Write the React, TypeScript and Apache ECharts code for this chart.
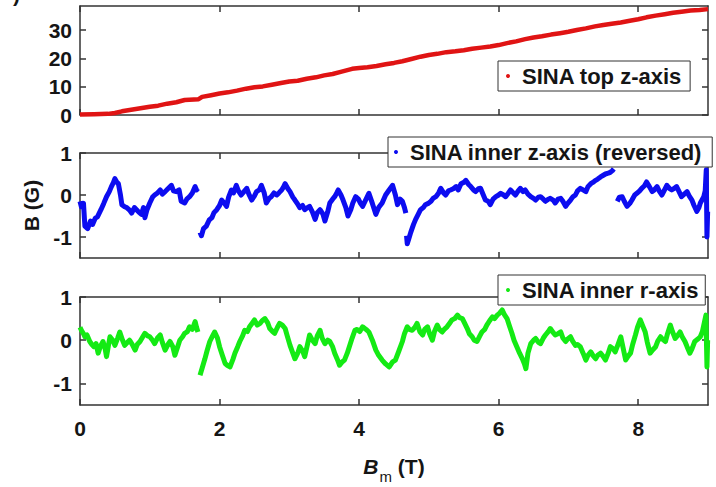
import React, { useEffect, useRef } from "react";
import * as echarts from "echarts";

// ---------- data ----------
const X_TICKS = [0, 2, 4, 6, 8];
const TOP_Y_TICKS = [0, 10, 20, 30];
const INNER_Y_TICKS = [-1, 0, 1];

const SERIES_NAMES = ["SINA top z-axis", "SINA inner z-axis (reversed)", "SINA inner r-axis"];
const X_TITLE_MAIN = "B";
const X_TITLE_SUB = "m";
const X_TITLE_UNIT = " (T)";
const Y_TITLE = "B (G)";

type P = [number, number | null];

const topZ: P[] = [
  [0, 0.2], [0.2, 0.3], [0.4, 0.4], [0.5, 0.7], [0.6, 1.3], [0.8, 2.1], [1.0, 2.9], [1.12, 3.3],
  [1.25, 4.0], [1.38, 4.5], [1.5, 5.3], [1.7, 5.6], [1.75, 6.4], [1.88, 7.0], [2.0, 7.6], [2.12, 8.0],
  [2.25, 8.6], [2.38, 9.3], [2.5, 9.8], [2.62, 10.1], [2.75, 10.7], [2.88, 11.3], [3.0, 11.8],
  [3.12, 12.1], [3.25, 12.8], [3.38, 13.3], [3.5, 14.0], [3.62, 14.5], [3.75, 15.3], [3.9, 16.3],
  [4.0, 16.6], [4.12, 16.9], [4.25, 17.3], [4.38, 17.9], [4.5, 18.4], [4.62, 19.0], [4.75, 19.8],
  [4.88, 20.6], [5.0, 21.2], [5.12, 21.6], [5.25, 22.2], [5.38, 22.5], [5.5, 22.9], [5.62, 23.4],
  [5.75, 23.8], [5.88, 24.2], [6.0, 24.7], [6.12, 25.4], [6.25, 26.0], [6.38, 26.8], [6.5, 27.4],
  [6.62, 27.8], [6.75, 28.4], [6.88, 28.9], [7.0, 29.4], [7.12, 30.0], [7.25, 30.6], [7.38, 31.3],
  [7.5, 31.8], [7.62, 32.2], [7.75, 32.7], [7.88, 33.3], [8.0, 33.8], [8.12, 34.5], [8.25, 35.1],
  [8.38, 35.6], [8.5, 36.1], [8.62, 36.5], [8.75, 36.9], [8.88, 37.1], [9.0, 37.4],
];

const innerZ: P[] = [
  [0.0, -0.15], [0.02, -0.28], [0.05, -0.2], [0.07, -0.74], [0.11, -0.8], [0.15, -0.62], [0.18, -0.7],
  [0.22, -0.55], [0.25, -0.52], [0.3, -0.35], [0.34, -0.2], [0.38, -0.04], [0.42, 0.08], [0.45, 0.2],
  [0.48, 0.3], [0.5, 0.39], [0.53, 0.3], [0.55, 0.27], [0.58, 0.0], [0.6, -0.23], [0.64, -0.28],
  [0.67, -0.3], [0.71, -0.36], [0.74, -0.43], [0.78, -0.3], [0.81, -0.35], [0.85, -0.42], [0.88, -0.46],
  [0.91, -0.3], [0.93, -0.54], [0.96, -0.35], [1.0, -0.19], [1.04, -0.05], [1.07, 0.0], [1.11, 0.05],
  [1.15, 0.12], [1.18, 0.02], [1.22, 0.08], [1.26, 0.15], [1.31, 0.23], [1.34, 0.1], [1.38, 0.08],
  [1.42, 0.12], [1.45, -0.15], [1.5, -0.19], [1.53, -0.1], [1.57, -0.04], [1.61, 0.05], [1.65, 0.2],
  [1.67, 0.12], [1.69, 0.16],
  [1.705, null],
  [1.72, -0.89], [1.74, -0.97], [1.77, -0.8], [1.81, -0.74], [1.85, -0.6], [1.89, -0.54], [1.92, -0.42],
  [1.96, -0.35], [2.0, -0.25], [2.03, -0.12], [2.07, -0.2], [2.1, -0.27], [2.13, -0.05], [2.17, 0.12],
  [2.2, 0.05], [2.24, 0.23], [2.27, 0.1], [2.31, 0.0], [2.35, 0.08], [2.39, 0.16], [2.42, 0.02],
  [2.46, -0.12], [2.5, -0.02], [2.53, 0.08], [2.57, 0.12], [2.6, 0.23], [2.64, 0.05], [2.67, -0.19],
  [2.71, -0.08], [2.74, -0.04], [2.78, 0.05], [2.82, 0.0], [2.85, 0.05], [2.89, 0.12], [2.92, 0.2],
  [2.94, 0.27], [2.98, 0.15], [3.01, 0.08], [3.05, -0.05], [3.08, -0.12], [3.12, -0.22], [3.15, -0.3],
  [3.19, -0.25], [3.22, -0.35], [3.26, -0.3], [3.29, -0.27], [3.33, -0.4], [3.37, -0.58], [3.4, -0.42],
  [3.44, -0.35], [3.48, -0.45], [3.51, -0.62], [3.55, -0.4], [3.58, -0.19], [3.62, -0.1], [3.65, -0.04],
  [3.68, 0.05], [3.7, 0.12], [3.74, 0.0], [3.77, -0.12], [3.81, -0.3], [3.84, -0.5], [3.88, -0.35],
  [3.91, -0.19], [3.95, -0.04], [3.99, -0.1], [4.02, -0.2], [4.05, -0.27], [4.1, -0.1], [4.14, 0.04],
  [4.19, -0.2], [4.24, -0.46], [4.28, -0.3], [4.33, -0.19], [4.38, 0.0], [4.43, 0.12], [4.48, 0.23],
  [4.52, 0.0], [4.55, -0.23], [4.59, -0.1], [4.62, -0.15], [4.65, -0.3], [4.67, -0.43],
  [4.675, null],
  [4.68, -0.97], [4.69, -1.16], [4.72, -1.0], [4.74, -0.89], [4.78, -0.7], [4.81, -0.58], [4.85, -0.45],
  [4.88, -0.35], [4.92, -0.3], [4.95, -0.23], [4.99, -0.2], [5.03, -0.15], [5.06, -0.08], [5.1, -0.04],
  [5.14, 0.05], [5.17, 0.16], [5.21, 0.05], [5.24, 0.0], [5.28, 0.1], [5.31, 0.12], [5.35, 0.15],
  [5.39, 0.2], [5.42, 0.12], [5.46, 0.27], [5.5, 0.3], [5.53, 0.35], [5.57, 0.25], [5.6, 0.2],
  [5.64, 0.12], [5.67, 0.08], [5.71, 0.15], [5.74, 0.16], [5.78, 0.0], [5.81, -0.12], [5.85, -0.15],
  [5.88, -0.23], [5.92, -0.1], [5.96, -0.04], [6.0, 0.0], [6.03, 0.04], [6.07, 0.0], [6.1, -0.04],
  [6.14, 0.05], [6.17, 0.12], [6.21, 0.05], [6.24, 0.0], [6.28, 0.1], [6.31, 0.16], [6.35, 0.08],
  [6.38, 0.12], [6.42, 0.02], [6.46, -0.04], [6.5, -0.08], [6.53, -0.12], [6.57, -0.05], [6.6, -0.04],
  [6.64, -0.1], [6.67, -0.15], [6.71, -0.1], [6.74, -0.08], [6.78, -0.12], [6.81, -0.19], [6.85, -0.1],
  [6.89, -0.08], [6.92, -0.15], [6.96, -0.27], [6.99, -0.2], [7.03, -0.12], [7.06, -0.05], [7.1, 0.0],
  [7.13, 0.1], [7.17, 0.16], [7.21, 0.12], [7.25, 0.08], [7.28, 0.2], [7.32, 0.27], [7.35, 0.3],
  [7.39, 0.35], [7.42, 0.38], [7.46, 0.43], [7.5, 0.47], [7.53, 0.5], [7.57, 0.52], [7.6, 0.54],
  [7.63, 0.58], [7.65, 0.62],
  [7.675, null],
  [7.7, -0.15], [7.73, -0.05], [7.77, -0.04], [7.8, -0.15], [7.84, -0.27], [7.88, -0.2], [7.91, -0.12],
  [7.95, 0.0], [7.98, 0.04], [8.02, 0.1], [8.05, 0.16], [8.09, 0.22], [8.12, 0.31], [8.16, 0.2],
  [8.2, 0.08], [8.23, 0.12], [8.27, 0.2], [8.3, 0.1], [8.34, 0.0], [8.37, 0.1], [8.41, 0.23],
  [8.45, 0.15], [8.48, 0.12], [8.51, 0.15], [8.55, 0.2], [8.58, 0.1], [8.62, -0.04], [8.66, 0.02],
  [8.7, 0.08], [8.73, -0.02], [8.77, -0.12], [8.8, -0.25], [8.84, -0.39], [8.87, -0.3], [8.89, -0.19],
  [8.92, -0.1], [8.94, -0.04], [8.96, 0.1], [8.975, 0.6], [8.985, -1.0], [8.995, -0.4],
];

const innerR: P[] = [
  [0.0, 0.3], [0.02, 0.23], [0.05, 0.15], [0.07, 0.08], [0.1, 0.12], [0.14, -0.03], [0.17, -0.1],
  [0.2, -0.15], [0.23, -0.08], [0.26, -0.3], [0.29, -0.15], [0.33, -0.03], [0.36, -0.2], [0.38, -0.38],
  [0.41, -0.1], [0.43, 0.08], [0.47, 0.0], [0.5, -0.12], [0.54, 0.05], [0.57, 0.19], [0.61, 0.0],
  [0.64, -0.12], [0.68, -0.05], [0.71, 0.0], [0.75, -0.1], [0.79, -0.23], [0.82, -0.1], [0.86, -0.03],
  [0.9, 0.08], [0.93, 0.16], [0.97, 0.1], [1.0, 0.08], [1.04, 0.0], [1.07, -0.08], [1.11, 0.05],
  [1.15, 0.12], [1.18, -0.05], [1.22, -0.23], [1.26, -0.1], [1.29, -0.03], [1.33, -0.15], [1.36, -0.35],
  [1.4, -0.15], [1.43, 0.0], [1.47, 0.08], [1.5, 0.16], [1.54, 0.2], [1.57, 0.31], [1.61, 0.25],
  [1.65, 0.43], [1.67, 0.3], [1.69, 0.19],
  [1.705, null],
  [1.72, -0.81], [1.75, -0.65], [1.79, -0.43], [1.82, -0.25], [1.86, -0.03], [1.9, 0.1], [1.93, 0.19],
  [1.97, 0.05], [2.0, -0.15], [2.04, -0.35], [2.08, -0.54], [2.11, -0.58], [2.15, -0.62], [2.19, -0.45],
  [2.22, -0.3], [2.26, -0.15], [2.29, -0.03], [2.33, 0.1], [2.36, 0.23], [2.4, 0.2], [2.43, 0.31],
  [2.47, 0.4], [2.5, 0.47], [2.54, 0.35], [2.58, 0.39], [2.61, 0.45], [2.65, 0.5], [2.69, 0.4],
  [2.72, 0.27], [2.76, 0.2], [2.79, 0.16], [2.83, 0.3], [2.86, 0.39], [2.9, 0.35], [2.94, 0.27],
  [2.97, 0.1], [3.01, -0.12], [3.05, -0.3], [3.08, -0.43], [3.12, -0.3], [3.15, -0.15], [3.19, -0.25],
  [3.22, -0.38], [3.26, -0.1], [3.29, 0.12], [3.33, 0.0], [3.37, -0.08], [3.4, 0.1], [3.44, 0.23],
  [3.47, 0.05], [3.51, -0.08], [3.55, 0.0], [3.58, -0.03], [3.62, -0.15], [3.65, -0.3], [3.69, -0.45],
  [3.72, -0.58], [3.76, -0.5], [3.79, -0.46], [3.83, -0.3], [3.86, -0.15], [3.9, 0.05], [3.94, 0.23],
  [3.97, 0.25], [4.01, 0.2], [4.05, 0.31], [4.1, 0.25], [4.14, 0.19], [4.19, 0.0], [4.24, -0.23],
  [4.28, -0.35], [4.33, -0.46], [4.38, -0.55], [4.43, -0.62], [4.48, -0.5], [4.52, -0.46], [4.57, -0.25],
  [4.62, -0.03], [4.65, 0.15], [4.69, 0.31], [4.72, 0.25], [4.76, 0.23], [4.8, 0.3], [4.83, 0.39],
  [4.87, 0.2], [4.91, 0.12], [4.94, 0.25], [4.98, 0.31], [5.01, 0.15], [5.05, 0.0], [5.08, 0.2],
  [5.12, 0.35], [5.15, 0.25], [5.19, 0.19], [5.22, 0.25], [5.26, 0.31], [5.3, 0.4], [5.33, 0.47],
  [5.37, 0.5], [5.41, 0.58], [5.44, 0.52], [5.48, 0.5], [5.51, 0.4], [5.55, 0.27], [5.58, 0.15],
  [5.62, 0.08], [5.65, 0.0], [5.69, -0.03], [5.73, 0.1], [5.76, 0.19], [5.8, 0.25], [5.83, 0.35],
  [5.87, 0.45], [5.91, 0.54], [5.94, 0.5], [5.98, 0.58], [6.01, 0.62], [6.05, 0.7], [6.08, 0.6],
  [6.12, 0.5], [6.15, 0.35], [6.19, 0.16], [6.22, 0.0], [6.26, -0.15], [6.3, -0.3], [6.34, -0.43],
  [6.37, -0.55], [6.39, -0.66], [6.42, -0.3], [6.46, -0.08], [6.5, 0.0], [6.53, 0.04], [6.57, -0.05],
  [6.6, -0.08], [6.64, 0.05], [6.67, 0.12], [6.71, 0.2], [6.74, 0.27], [6.78, 0.18], [6.81, 0.12],
  [6.85, 0.15], [6.89, 0.19], [6.92, 0.05], [6.96, -0.03], [6.99, 0.03], [7.03, 0.08], [7.06, -0.02],
  [7.1, -0.12], [7.13, -0.1], [7.17, -0.15], [7.21, -0.3], [7.25, -0.46], [7.28, -0.35], [7.32, -0.27],
  [7.35, -0.35], [7.39, -0.43], [7.42, -0.35], [7.46, -0.3], [7.5, -0.38], [7.53, -0.46], [7.57, -0.3],
  [7.6, -0.15], [7.64, -0.2], [7.67, -0.27], [7.71, -0.1], [7.75, 0.08], [7.78, -0.15], [7.82, -0.46],
  [7.85, -0.38], [7.89, -0.3], [7.92, -0.1], [7.96, 0.12], [7.99, 0.3], [8.03, 0.47], [8.06, 0.35],
  [8.1, 0.19], [8.13, -0.05], [8.17, -0.3], [8.21, -0.22], [8.25, -0.15], [8.28, -0.02], [8.32, 0.08],
  [8.35, 0.02], [8.39, -0.03], [8.42, 0.15], [8.46, 0.35], [8.49, 0.2], [8.53, 0.04], [8.56, 0.1],
  [8.6, 0.19], [8.63, 0.08], [8.67, -0.03], [8.7, -0.15], [8.74, -0.3], [8.77, -0.2], [8.81, -0.03],
  [8.85, 0.02], [8.89, 0.08], [8.92, 0.2], [8.94, 0.35], [8.97, 0.58], [8.985, -0.62], [8.995, 0.0],
];

// ---------- styling ----------
const FONT = "'Liberation Sans', Arial, Helvetica, sans-serif";
const AXIS_COLOR = "#333333";
const TEXT_COLOR = "#151515";
const COLORS = ["#e01414", "#0c0cf0", "#14ea14"];

const toData = (arr: P[]) => arr.map(([x, y]) => [x, y === null ? "-" : y]);

function xAxesFor(grid: number, showLabels: boolean, withName: boolean) {
  const base = {
    type: "value",
    gridIndex: grid,
    min: 0,
    max: 9,
    splitLine: { show: false },
    axisLine: { show: true, onZero: false, lineStyle: { color: AXIS_COLOR, width: 1.5 } },
    axisTick: { show: true, inside: true, length: 6, customValues: X_TICKS, lineStyle: { color: AXIS_COLOR, width: 1.5 } },
  };
  const bottom: any = {
    ...base,
    position: "bottom",
    axisLabel: {
      show: showLabels,
      customValues: X_TICKS,
      fontSize: 21,
      fontWeight: "bold",
      color: TEXT_COLOR,
      fontFamily: FONT,
      margin: 13,
    },
  };
  if (withName) {
    bottom.name = `{b|${X_TITLE_MAIN}}{s|${X_TITLE_SUB}}{u|${X_TITLE_UNIT}}`;
    bottom.nameLocation = "middle";
    bottom.nameGap = 44;
    bottom.nameTextStyle = {
      fontFamily: FONT,
      color: TEXT_COLOR,
      rich: {
        b: { fontSize: 21, fontWeight: "bold", fontStyle: "italic", fontFamily: FONT, color: TEXT_COLOR },
        s: { fontSize: 15, fontWeight: "normal", fontFamily: FONT, color: TEXT_COLOR, padding: [20, 0, 0, 1] },
        u: { fontSize: 21, fontWeight: "bold", fontFamily: FONT, color: TEXT_COLOR },
      },
    };
  }
  const top: any = { ...base, position: "top", axisLabel: { show: false } };
  return [bottom, top];
}

function yAxesFor(grid: number, min: number, max: number, ticks: number[], name?: string) {
  const base = {
    type: "value",
    gridIndex: grid,
    min,
    max,
    splitLine: { show: false },
    axisLine: { show: true, onZero: false, lineStyle: { color: AXIS_COLOR, width: 1.5 } },
    axisTick: { show: true, inside: true, length: 6, customValues: ticks, lineStyle: { color: AXIS_COLOR, width: 1.5 } },
  };
  const left: any = {
    ...base,
    position: "left",
    axisLabel: {
      show: true,
      customValues: ticks,
      fontSize: 21,
      fontWeight: "bold",
      color: TEXT_COLOR,
      fontFamily: FONT,
      margin: 8,
    },
  };
  if (name) {
    left.name = name;
    left.nameLocation = "middle";
    left.nameRotate = 90;
    left.nameGap = 38;
    left.nameTextStyle = { fontSize: 21, fontWeight: "bold", color: TEXT_COLOR, fontFamily: FONT };
  }
  const right: any = { ...base, position: "right", axisLabel: { show: false } };
  return [left, right];
}

function legendFor(name: string, left: number, top: number, padLeft: number, padRight: number) {
  return {
    data: [name],
    left,
    top,
    orient: "horizontal",
    backgroundColor: "#ffffff",
    borderColor: "#333333",
    borderWidth: 1,
    borderRadius: 0,
    padding: [4, padRight, 4, padLeft],
    itemWidth: 18,
    itemHeight: 4,
    icon: "circle",
    selectedMode: false,
    z: 10,
    textStyle: { fontSize: 22, fontWeight: "bold", color: TEXT_COLOR, fontFamily: FONT, lineHeight: 22 },
  };
}

export default function App() {
  const ref = useRef<HTMLDivElement>(null);
  useEffect(() => {
    if (!ref.current) return;
    const chart = echarts.init(ref.current, undefined, { renderer: "svg" });
    const option: any = {
      animation: false,
      backgroundColor: "#ffffff",
      textStyle: { fontFamily: FONT },
      grid: [
        { left: 80, right: 8, top: 6, height: 109 },
        { left: 80, right: 8, top: 153, height: 105 },
        { left: 80, right: 8, top: 297, height: 108 },
      ],
      xAxis: [...xAxesFor(0, false, false), ...xAxesFor(1, false, false), ...xAxesFor(2, true, true)],
      yAxis: [
        ...yAxesFor(0, 0, 38.5, TOP_Y_TICKS),
        ...yAxesFor(1, -1.5, 1, INNER_Y_TICKS, Y_TITLE),
        ...yAxesFor(2, -1.5, 1, INNER_Y_TICKS),
      ],
      legend: [
        legendFor(SERIES_NAMES[0], 498, 61, 8, 8),
        legendFor(SERIES_NAMES[1], 388, 137, 6, 10),
        legendFor(SERIES_NAMES[2], 498, 275, 8, 6),
      ],
      graphic: [
        {
          type: "text",
          left: 13,
          top: -16,
          style: { text: ")", font: `bold 21px ${FONT}`, fill: TEXT_COLOR },
        },
      ],
      series: [
        { data: topZ, idx: 0 },
        { data: innerZ, idx: 1 },
        { data: innerR, idx: 2 },
      ].map(({ data, idx }) => ({
        type: "line",
        name: SERIES_NAMES[idx],
        xAxisIndex: idx * 2,
        yAxisIndex: idx * 2,
        data: toData(data),
        showSymbol: false,
        symbol: "circle",
        connectNulls: false,
        color: COLORS[idx],
        itemStyle: { color: COLORS[idx] },
        lineStyle: { color: COLORS[idx], width: idx === 0 ? 4.5 : 5, join: "round" },
        z: 2,
      })),
    };
    chart.setOption(option);
    return () => chart.dispose();
  }, []);
  return <div ref={ref} style={{ position: "fixed", left: 0, top: 0, width: 716, height: 487 }} />;
}
